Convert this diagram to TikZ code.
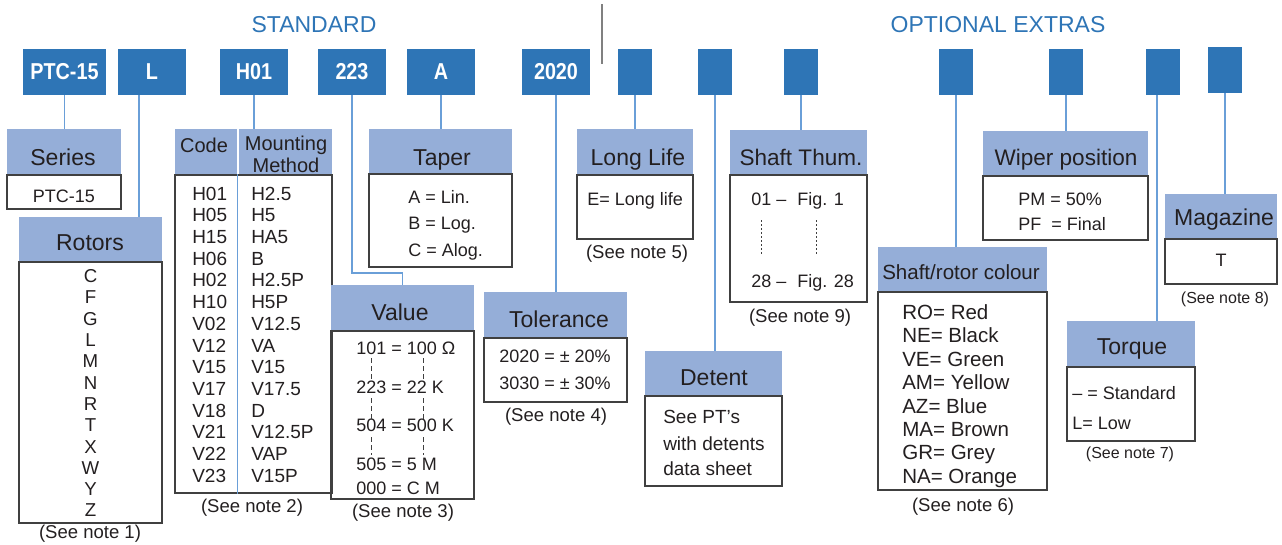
\documentclass[tikz,border=0pt]{standalone}
\usepackage{fontspec}
\setmainfont{Liberation Sans}
\newfontfamily\topfont[FakeStretch=0.86]{Liberation Sans}
\usetikzlibrary{fit}
\definecolor{topblue}{HTML}{2E75B6}
\definecolor{hdrblue}{HTML}{95AED8}
\definecolor{linkblue}{HTML}{6A9FD8}
\definecolor{ink}{HTML}{231F20}
\definecolor{boxgray}{HTML}{404040}
\definecolor{sepgray}{HTML}{808080}
\tikzset{
  topbox/.style={fill=topblue, inner sep=0pt},
  toptxt/.style={inner sep=0pt, anchor=base, text=white, font=\topfont\bfseries\fontsize{17.25pt}{20pt}\selectfont},
  hdr/.style={fill=hdrblue, inner sep=0pt},
  htxt/.style={inner sep=0pt, anchor=base, text=ink, font=\fontsize{17.25pt}{20pt}\selectfont},
  body/.style={draw=boxgray, line width=0.8pt, inner sep=0pt},
  link/.style={draw=linkblue, line width=0.9pt},
  txt/.style={inner sep=0pt, text=ink, anchor=base west, font=\fontsize{13.5pt}{16pt}\selectfont},
  ctxt/.style={inner sep=0pt, text=ink, anchor=base, font=\fontsize{13.5pt}{16pt}\selectfont},
  note/.style={inner sep=0pt, text=ink, anchor=base, font=\fontsize{13.9pt}{16pt}\selectfont},
  smallnote/.style={inner sep=0pt, text=ink, anchor=base, font=\fontsize{12pt}{14pt}\selectfont},
  title/.style={inner sep=0pt, text=topblue, anchor=base, font=\fontsize{17.25pt}{20pt}\selectfont},
}
\begin{document}
\begin{tikzpicture}[x=0.75pt,y=-0.75pt]
\useasboundingbox (0,0) rectangle (1282,544);

% titles and separator
\node[title] (std) at (314,32.3) {STANDARD};
\node[title] (opt) at (998,32.3) {OPTIONAL EXTRAS};
\draw[sepgray, line width=0.8pt] (602,4) -- (602,64);

% top code boxes
\node[topbox, fit={(23,49) (106,95)}] (b1) {};
\node[topbox, fit={(118,49) (186,95)}] (b2) {};
\node[topbox, fit={(220,49) (288,95)}] (b3) {};
\node[topbox, fit={(318,49) (386,95)}] (b4) {};
\node[topbox, fit={(407,49) (475,95)}] (b5) {};
\node[topbox, fit={(522,49) (590,95)}] (b6) {};
\node[topbox, fit={(618,49) (652,95)}] (b7) {};
\node[topbox, fit={(698,49) (732,95)}] (b8) {};
\node[topbox, fit={(784,49) (818,95)}] (b9) {};
\node[topbox, fit={(939,49) (973,95)}] (b10) {};
\node[topbox, fit={(1049,49) (1083,95)}] (b11) {};
\node[topbox, fit={(1146,49) (1180,95)}] (b12) {};
\node[topbox, fit={(1208,47) (1242,93)}] (b13) {};
\node[toptxt] (t1) at (64.5,79.3) {PTC-15};
\node[toptxt] (t2) at (152,79.3) {L};
\node[toptxt] (t3) at (254,79.3) {H01};
\node[toptxt] (t4) at (352,79.3) {223};
\node[toptxt] (t5) at (441,79.3) {A};
\node[toptxt] (t6) at (556,79.3) {2020};

% Series
\node[hdr, fit={(7,129) (121,175)}] (series) {};
\node[htxt] (seriesl) at (63,165.3) {Series};
\node[body, fit={(7,175) (121,209)}] (seriesb) {};
\node[ctxt] (seriest) at (64,202.4) {PTC-15};

% Rotors
\node[hdr, fit={(19,217) (162,262)}] (rotors) {};
\node[htxt] (rotorsl) at (90,250.3) {Rotors};
\node[body, fit={(19,262) (162,523)}] (rotorsb) {};
\foreach \t [count=\i from 0] in {C,F,G,L,M,N,R,T,X,W,Y,Z}
  \node[ctxt, font=\fontsize{14pt}{16pt}\selectfont] (rot\i) at (90.5,282.6+21.3*\i) {\t};
\node[note] (n1) at (90,538.5) {(See note 1)};

% Code / Mounting method
\node[hdr, fit={(175,129) (332,175)}] (codehdr) {};
\draw[white, line width=1.2pt] ([xshift=47.25pt]codehdr.north west) -- ([xshift=47.25pt]codehdr.south west);
\node[ctxt, font=\fontsize{15pt}{17pt}\selectfont] (codelbl) at (204,152.2) {Code};
\node[ctxt, font=\fontsize{15pt}{17pt}\selectfont] (mm1) at (286,150.2) {Mounting};
\node[ctxt, font=\fontsize{15pt}{17pt}\selectfont] (mm2) at (286,172.2) {Method};
\node[body, fit={(175,175) (332,493)}] (codeb) {};
\draw[link] ([xshift=47.25pt]codeb.north west) -- ([xshift=47.25pt]codeb.south west);
\foreach \c/\m [count=\i from 0] in {H01/H2.5,H05/H5,H15/HA5,H06/B,H02/H2.5P,H10/H5P,V02/V12.5,V12/VA,V15/V15,V17/V17.5,V18/D,V21/V12.5P,V22/VAP,V23/V15P}{
  \node[txt, font=\fontsize{14.25pt}{16pt}\selectfont] (cc\i) at (192,200.1+21.7*\i) {\c};
  \node[txt, font=\fontsize{14.25pt}{16pt}\selectfont] (cm\i) at (251,200.1+21.7*\i) {\m};
}
\node[note] (n2) at (252,512.5) {(See note 2)};

% Taper
\node[hdr, fit={(369,129) (512,174)}] (taper) {};
\node[htxt] (taperl) at (442,165.3) {Taper};
\node[body, fit={(369,174) (512,267)}] (taperb) {};
\node[txt] (ta1) at (408,203.4) {A = Lin.};
\node[txt] (ta2) at (408,229.4) {B = Log.};
\node[txt] (ta3) at (408,256.4) {C = Alog.};

% Value
\node[hdr, fit={(331,285) (474,331)}] (value) {};
\node[htxt] (valuel) at (400,320.3) {Value};
\node[body, fit={(331,331) (474,499)}] (valueb) {};
\node[txt] (va1) at (356,354.4) {101 = 100 Ω};
\node[txt] (va2) at (356,393.4) {223 = 22 K};
\node[txt] (va3) at (356,431.4) {504 = 500 K};
\node[txt] (va4) at (356,470.4) {505 = 5 M};
\node[txt] (va5) at (356,494.4) {000 = C M};
\foreach \ya/\yb in {358/380,398/420,437/455}{
  \draw[boxgray, line width=0.6pt, dash pattern=on 3.5pt off 2.5pt] (371,\ya) -- (371,\yb);
  \draw[boxgray, line width=0.6pt, dash pattern=on 3.5pt off 2.5pt] (423,\ya) -- (423,\yb);
}
\node[note] (n3) at (403,517.5) {(See note 3)};

% Tolerance
\node[hdr, fit={(484,292) (627,338)}] (tol) {};
\node[htxt] (toll) at (559,327.3) {Tolerance};
\node[body, fit={(484,338) (627,402)}] (tolb) {};
\node[ctxt] (to1) at (555,362.4) {2020 = ± 20\%};
\node[ctxt] (to2) at (555,389.4) {3030 = ± 30\%};
\node[note] (n4) at (556,421.5) {(See note 4)};

% Long life
\node[hdr, fit={(577,129) (693,175)}] (life) {};
\node[htxt] (lifel) at (638,165.3) {Long Life};
\node[body, fit={(577,175) (693,239)}] (lifeb) {};
\node[txt] (li1) at (587,205.4) {E= Long life};
\node[note] (n5) at (637,258.5) {(See note 5)};

% Detent
\node[hdr, fit={(645,351) (782,396)}] (detent) {};
\node[htxt] (detentl) at (714,385.3) {Detent};
\node[body, fit={(645,396) (782,486)}] (detentb) {};
\node[txt, font=\fontsize{14.25pt}{16pt}\selectfont] (de1) at (663,423.8) {See PT's};
\node[txt, font=\fontsize{14.25pt}{16pt}\selectfont] (de2) at (663,450.8) {with detents};
\node[txt, font=\fontsize{14.25pt}{16pt}\selectfont] (de3) at (663,475.8) {data sheet};

% Shaft thumb
\node[hdr, fit={(730,130) (867,175)}] (thum) {};
\node[htxt, font=\fontsize{16.9pt}{20pt}\selectfont] (thuml) at (801,165.3) {Shaft Thum.};
\node[body, fit={(730,175) (867,302)}] (thumb) {};
\node[txt] (th1) at (751,205.4) {01 –};
\node[txt] (th2) at (797,205.4) {Fig. 1};
\node[txt] (th3) at (751,287.4) {28 –};
\node[txt] (th4) at (797,287.4) {Fig. 28};
\draw[boxgray, line width=0.6pt, dash pattern=on 1.5pt off 1.5pt] (761,220) -- (761,254);
\draw[boxgray, line width=0.6pt, dash pattern=on 1.5pt off 1.5pt] (816,220) -- (816,254);
\node[note] (n9) at (800,322.5) {(See note 9)};

% Wiper position
\node[hdr, fit={(983,131) (1148,176)}] (wiper) {};
\node[htxt, font=\fontsize{16.9pt}{20pt}\selectfont] (wiperl) at (1066,165.3) {Wiper position};
\node[body, fit={(983,176) (1148,240)}] (wiperb) {};
\node[txt] (wi1) at (1018,205.4) {PM = 50\%};
\node[txt] (wi2) at (1018,230.4) {PF\ \ = Final};

% Shaft/rotor colour
\node[hdr, fit={(878,247) (1047,292)}] (colour) {};
\node[htxt, font=\fontsize{15.4pt}{18pt}\selectfont] (colourl) at (961,279.3) {Shaft/rotor colour};
\node[body, fit={(878,292) (1047,490)}] (colourb) {};
\foreach \t [count=\i from 0] in {RO= Red,NE= Black,VE= Green,AM= Yellow,AZ= Blue,MA= Brown,GR= Grey,NA= Orange}
  \node[txt, font=\fontsize{15.4pt}{18pt}\selectfont] (co\i) at (902,319.3+23.43*\i) {\t};
\node[note] (n6) at (963,511.5) {(See note 6)};

% Magazine
\node[hdr, fit={(1165,194) (1277,239)}] (mag) {};
\node[htxt] (magl) at (1224,225.3) {Magazine};
\node[body, fit={(1165,239) (1277,284)}] (magb) {};
\node[ctxt] (ma1) at (1221,266.4) {T};
\node[smallnote] (n8) at (1225,303.6) {(See note 8)};

% Torque
\node[hdr, fit={(1067,321) (1195,367)}] (torque) {};
\node[htxt] (torquel) at (1132,354.3) {Torque};
\node[body, fit={(1067,367) (1195,441)}] (torqueb) {};
\node[txt] (tq1) at (1072,399.4) {– = Standard};
\node[txt] (tq2) at (1072,429.4) {L= Low};
\node[smallnote] (n7) at (1130,458.6) {(See note 7)};

% connectors
\draw[link] (b1.south) -- (b1.south |- series.north);
\draw[link] ([xshift=-9.75pt]b2.south) -- ([xshift=-9.75pt]b2.south |- rotors.north);
\draw[link] (b3.south) -- (b3.south |- codehdr.north);
\coordinate (vbend) at (402.5,273);
\draw[link] (b4.south) |- (vbend) -- (value.north);
\draw[link] (b5.south) -- (b5.south |- taper.north);
\draw[link] (b6.south) -- (b6.south |- tol.north);
\draw[link] (b7.south) -- (b7.south |- life.north);
\draw[link] (b8.south) -- (b8.south |- detent.north);
\draw[link] (b9.south) -- (b9.south |- thum.north);
\draw[link] (b10.south) -- (b10.south |- colour.north);
\draw[link] (b11.south) -- (b11.south |- wiper.north);
\draw[link] ([xshift=-4.5pt]b12.south) -- ([xshift=-4.5pt]b12.south |- torque.north);
\draw[link] (b13.south) -- (b13.south |- mag.north);
\end{tikzpicture}
\end{document}
